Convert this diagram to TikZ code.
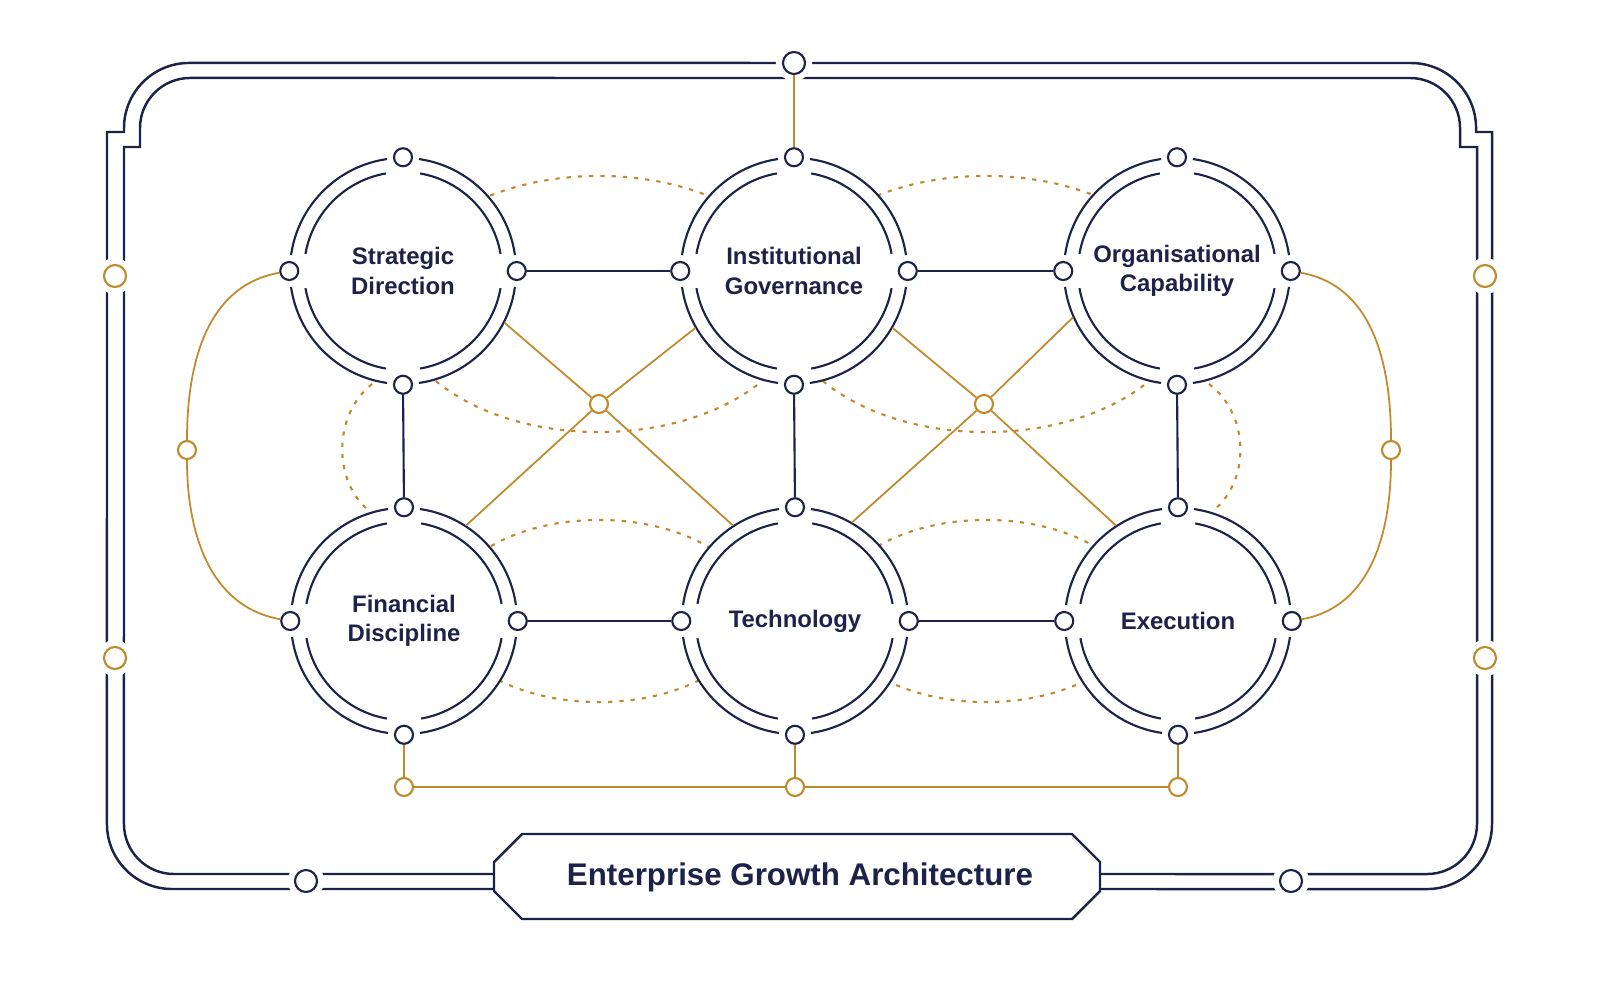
\documentclass[tikz,border=0pt]{standalone}
\usepackage{fontspec}
\setmainfont{Liberation Sans}
\usepackage{tikz}
\usetikzlibrary{positioning}
\definecolor{navy}{HTML}{1C2248}
\definecolor{gold}{HTML}{C08A2C}

\tikzset{
  hub/.style={circle,minimum size=2.26cm,inner sep=0pt,fill=white,align=center,
    text=navy,font=\fontsize{6.8}{8.4}\selectfont\bfseries},
  ring/.style={draw=navy,line width=0.6pt},
  port/.style={circle,draw=navy,fill=white,line width=0.6pt,minimum size=0.18cm,inner sep=0pt,
    preaction={draw=white,line width=4pt}},
  gport/.style={port,draw=gold},
  link/.style={draw=navy,line width=0.6pt},
  glink/.style={draw=gold,line width=0.5pt},
  dots/.style={draw=gold,line width=0.6pt,dash pattern=on 1.2pt off 2pt},
  frame/.style={draw=navy,line width=0.7pt}
}

\begin{document}
\begin{tikzpicture}[x=0.01cm,y=-0.01cm]
  \useasboundingbox (0,0) rectangle (1600,1000);
  % frame
  \draw[frame] (494,889) -- (172,889) arc[start angle=270,end angle=180,radius=0.65cm]
    -- (107,132) -- (124,132) -- (124,128) arc[start angle=180,end angle=90,radius=0.65cm]
    -- (1411,63) arc[start angle=90,end angle=0,radius=0.65cm] -- (1476,132) -- (1492,132)
    -- (1492,824) arc[start angle=0,end angle=-90,radius=0.65cm] -- (1100,889);
  \draw[frame] (494,874) -- (174,874) arc[start angle=270,end angle=180,radius=0.5cm]
    -- (124,147) -- (140,147) -- (140,128) arc[start angle=180,end angle=90,radius=0.5cm]
    -- (1410,78) arc[start angle=90,end angle=0,radius=0.5cm] -- (1460,147) -- (1477,147)
    -- (1477,824) arc[start angle=0,end angle=-90,radius=0.5cm] -- (1100,874);
  % dotted halos
  \draw[dots] (599,304) ellipse [x radius=2.04cm,y radius=1.28cm];
  \draw[dots] (986,304) ellipse [x radius=2.04cm,y radius=1.28cm];
  \draw[dots] (599,611) ellipse [x radius=1.54cm,y radius=0.91cm];
  \draw[dots] (986,611) ellipse [x radius=1.54cm,y radius=0.91cm];
  \draw[dots] (372,384) .. controls (333,415) and (333,480) .. (368,510);
  \draw[dots] (1209,384) .. controls (1250,415) and (1250,480) .. (1214,510);
  % hubs
  \node[hub] (SD) at (403,271) {Strategic\\Direction};
  \node[hub] (IG) at (794,271) {Institutional\\Governance};
  \node[hub] (OC) at (1177,271) {Organisational\\Capability};
  \node[hub] (FD) at (404,621) {Financial\\Discipline};
  \node[hub] (TE) at (795,621) {Technology};
  \node[hub] (EX) at (1178,621) {Execution};
  \foreach \h in {SD,IG,OC,FD,TE,EX} {
    \draw[ring] (\h.center) circle (1.13cm);
    \foreach \a in {0,90,180,270}
      \draw[ring] ([shift={(\a+10:0.99cm)}]\h.center) arc[start angle=\a+10,end angle=\a+80,radius=0.99cm];
  }
  % cross links
  \node[gport] (X1) at (599,404) {};
  \node[gport] (X2) at (984,404) {};
  \draw[glink] (SD.-27) -- (X1) -- (TE.123);
  \draw[glink] (IG.210) -- (X1) -- (FD.57);
  \draw[glink] (IG.-30) -- (X2) -- (EX.123);
  \draw[glink] (OC.204) -- (X2) -- (TE.60);
  % ports
  \foreach \h in {SD,IG,OC,FD,TE,EX}
    \foreach \d/\s in {north/n,south/s,east/e,west/w}
      \node[port] (\h\s) at (\h.\d) {};
  \draw[link] (SDe) -- (IGw);
  \draw[link] (IGe) -- (OCw);
  \draw[link] (FDe) -- (TEw);
  \draw[link] (TEe) -- (EXw);
  \draw[link] (SDs) -- (FDn);
  \draw[link] (IGs) -- (TEn);
  \draw[link] (OCs) -- (EXn);
  % side arcs
  \node[gport] (L) at (187,450) {};
  \node[gport] (R) at (1391,450) {};
  \draw[glink] (SDw) to[out=190,in=90] (L) to[out=-90,in=170] (FDw);
  \draw[glink] (OCe) to[out=-10,in=90] (R) to[out=-90,in=10] (EXe);
  % base rail
  \node[gport] (B1) at (404,787) {};
  \node[gport] (B2) at (795,787) {};
  \node[gport] (B3) at (1178,787) {};
  \draw[glink] (FDs) -- (B1) -- (B2) -- (B3) -- (EXs);
  \draw[glink] (TEs) -- (B2);
  % frame ports
  \node[port,minimum size=0.22cm] (TOP) at (794,63) {};
  \draw[glink] (TOP) -- (IGn);
  \node[gport,minimum size=0.22cm] (FL1) at (115,276) {};
  \node[gport,minimum size=0.22cm] (FL2) at (115,658) {};
  \node[gport,minimum size=0.22cm] (FR1) at (1485,276) {};
  \node[gport,minimum size=0.22cm] (FR2) at (1485,658) {};
  \node[port,minimum size=0.22cm] (FB1) at (306,881) {};
  \node[port,minimum size=0.22cm] (FB2) at (1291,881) {};
  % title
  \draw[frame,fill=white] (522,834) -- (1072,834) -- (1100,862) -- (1100,891) -- (1072,919)
    -- (522,919) -- (494,891) -- (494,862) -- cycle;
  \node[text=navy,font=\fontsize{8.9}{10}\selectfont\bfseries] (title) at (800,877) {Enterprise Growth Architecture};
\end{tikzpicture}
\end{document}
